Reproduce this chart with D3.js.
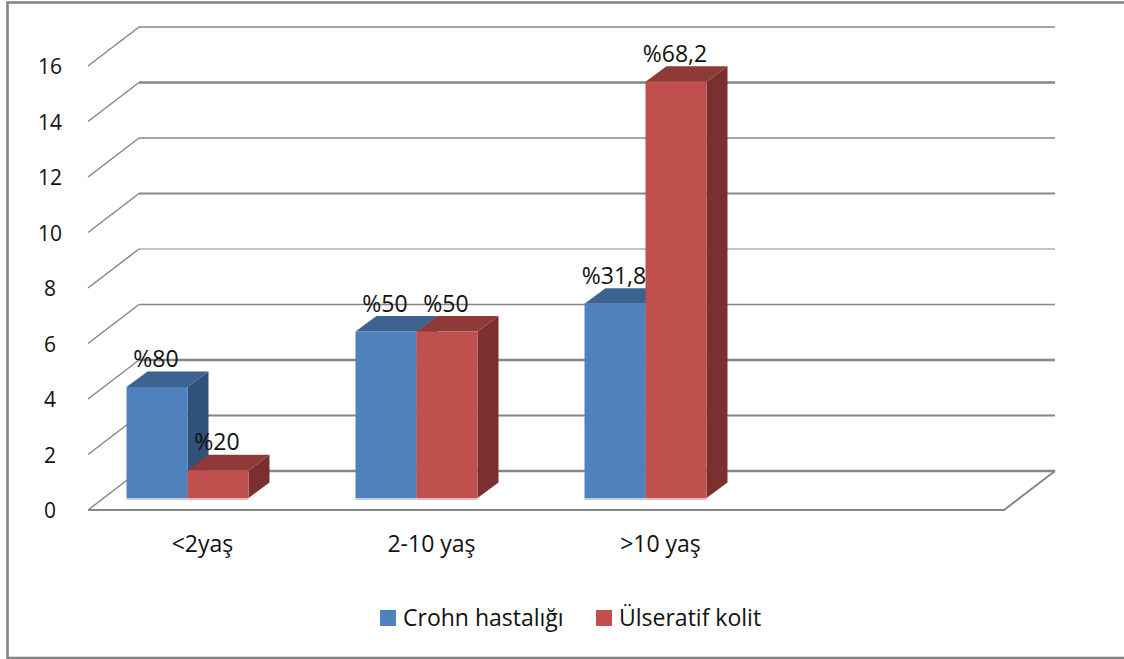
<!DOCTYPE html>
<html><head><meta charset="utf-8">
<script src="https://cdn.jsdelivr.net/npm/d3@7"></script>
<style>html,body{margin:0;padding:0;background:#fff}svg{display:block}
text{font-family:"Open Sans","Noto Sans",sans-serif;fill:#111}</style></head>
<body><svg width="1124" height="659"></svg>
<script>
const categories=["<2yaş","2-10 yaş",">10 yaş",""];
const seriesNames=["Crohn hastalığı","Ülseratif kolit"];
const crohn=[4,6,7,null];
const kolit=[1,6,15,null];
const crohnLabels=["%80","%50","%31,8",""];
const kolitLabels=["%20","%50","%68,2",""];
const yTicks=[0,2,4,6,8,10,12,14,16];
const faceColors=[["#4f81bd","#3c6390","#30527a"],["#c0504d","#8f3a39","#7a302e"]];
const baseGlow=["#b9cce4","#e6b9b8"];
const gridWeights=[2.5,2,2.6,1.6,1.2,1.8,1.5,2.6,1.5];

const svg=d3.select("svg");
const y=d3.scaleLinear().domain([0,16]).range([510,66]);
const x=d3.scaleBand().domain(categories).range([73,989]);
const inner=d3.scaleBand().domain([0,1]).range([0,122]);
const D={dx:51,dy:-39}, B={dx:21,dy:-15.5}, barBase=-12;

svg.append("rect").attr("x",7.5).attr("y",2.5).attr("width",1130).attr("height",655.5)
  .attr("fill","none").attr("stroke","#868686").attr("stroke-width",2.6);

const grid=svg.append("g").attr("stroke","#868686").attr("fill","none");
yTicks.forEach((t,i)=>{
  const p=y(t);
  grid.append("path").attr("stroke-width",1.5)
    .attr("d",`M88,${p}L${88+D.dx},${p+D.dy}`);
  grid.append("line").attr("x1",88+D.dx).attr("x2",1004+D.dx).attr("y1",p+D.dy).attr("y2",p+D.dy)
    .attr("stroke-width",gridWeights[i]);
});
grid.append("path").attr("stroke-width",2).attr("d",`M88,510H1004L1055,471`);

svg.selectAll(".yt").data(yTicks).join("text").attr("class","yt")
  .attr("x",50).attr("y",d=>y(d)+8).attr("text-anchor","middle").attr("font-size",21).text(d=>d);

function bar(cat,si,val){
  if(val==null) return;
  const x0=x(cat)+x.bandwidth()/2-61+inner(si), w=inner.bandwidth();
  const top=y(val)+barBase, base=y(0)+barBase;
  const c=faceColors[si], g=svg.append("g");
  g.append("path").attr("fill",c[2]).attr("d",`M${x0+w},${top}l${B.dx},${B.dy}V${base+B.dy}l${-B.dx},${-B.dy}Z`);
  g.append("path").attr("fill",c[1]).attr("d",`M${x0},${top}l${B.dx},${B.dy}h${w}l${-B.dx},${-B.dy}Z`);
  g.append("rect").attr("x",x0).attr("y",base).attr("width",w).attr("height",2).attr("fill",baseGlow[si]);
  g.append("rect").attr("x",x0).attr("y",top).attr("width",w).attr("height",base-top).attr("fill",c[0]);
  return {x:x0,top,w};
}
const labelsToDraw=[];
categories.forEach((c,i)=>{
  [[crohn,crohnLabels],[kolit,kolitLabels]].forEach(([vals,labs],si)=>{
    const r=bar(c,si,vals[i]);
    if(r) labelsToDraw.push({x:r.x+r.w/2-1,y:r.top-20,t:labs[i]});
  });
});
svg.selectAll(".dl").data(labelsToDraw).join("text").attr("class","dl")
  .attr("x",d=>d.x).attr("y",d=>d.y).attr("text-anchor","middle").attr("font-size",23).text(d=>d.t);

svg.selectAll(".xt").data(categories).join("text").attr("class","xt")
  .attr("x",d=>x(d)+x.bandwidth()/2+15).attr("y",552).attr("text-anchor","middle").attr("font-size",23).text(d=>d);

const lx=[380,596], g=svg.append("g");
seriesNames.forEach((n,i)=>{
  g.append("rect").attr("x",lx[i]).attr("y",610).attr("width",16).attr("height",16).attr("fill",faceColors[i][0]);
  g.append("text").attr("x",lx[i]+23).attr("y",626).attr("font-size",23).text(n);
});
</script></body></html>
